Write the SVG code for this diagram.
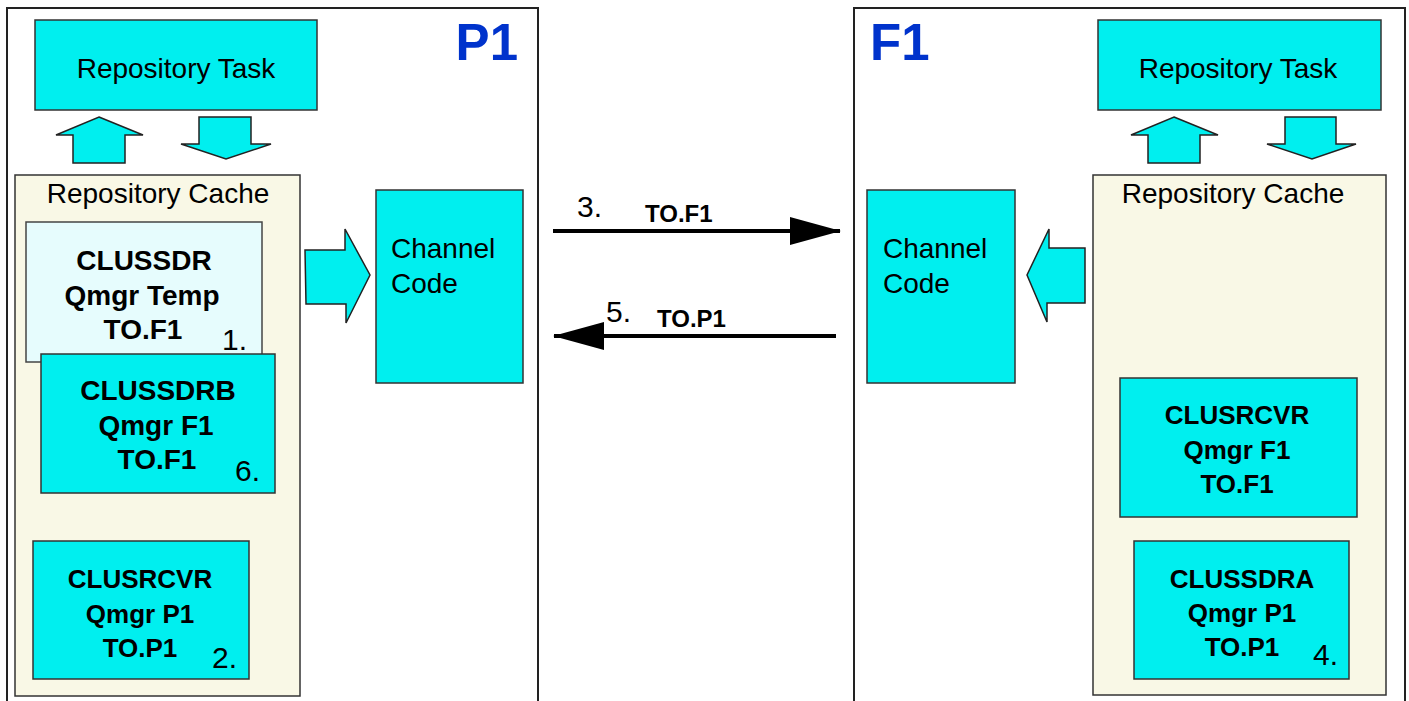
<svg xmlns="http://www.w3.org/2000/svg" width="1409" height="701" viewBox="0 0 1409 701">
<style>
.panel{fill:#ffffff;stroke:#222;stroke-width:2}
.box{fill:#00efef;stroke:#333;stroke-width:1.5}
.cache{fill:#f9f8e6;stroke:#333;stroke-width:1.5}
.light{fill:#e6fcfd;stroke:#444;stroke-width:1.5}
.arw{fill:#00efef;stroke:#222;stroke-width:1.5;stroke-linejoin:miter}
.t{font-family:'Liberation Sans',Arial,sans-serif;fill:#000}
.lbl{font-size:28px}
.b{font-weight:bold;text-anchor:middle}
.b28{font-size:28px}
.b26{font-size:26px}
.num{font-size:30px}
.title{font-family:'Liberation Sans',Arial,sans-serif;font-weight:bold;font-size:51px;fill:#0033cc}
.conn{stroke:#000;stroke-width:4;fill:none}
</style>
<defs>
<marker id="ah" markerUnits="userSpaceOnUse" markerWidth="52" markerHeight="30" refX="50" refY="14" orient="auto">
<path d="M0,0 L51,14 L0,28 Z" fill="#000"/>
</marker>
</defs>
<rect width="1409" height="701" fill="#ffffff"/>

<g id="panel-P1">
<rect class="panel" x="7" y="8" width="531" height="700"/>
<text class="title" x="518" y="60" text-anchor="end">P1</text>
</g>
<g id="panel-F1">
<rect class="panel" x="854" y="8" width="551" height="700"/>
<text class="title" x="870" y="60">F1</text>
</g>

<g id="p1-repo-task">
<rect class="box" x="35" y="20" width="282" height="90"/>
<text class="t lbl" x="176" y="78" text-anchor="middle">Repository Task</text>
</g>
<g id="p1-arrow-up"><polygon class="arw" points="99,117 143,135 125,135 125,163 73,163 73,135 56,135"/></g>
<g id="p1-arrow-down"><polygon class="arw" points="199,117 251,117 251,144 271,144 226,159 181,144 199,144"/></g>

<g id="p1-repo-cache">
<rect class="cache" x="15" y="175" width="285" height="521"/>
<text class="t lbl" x="158" y="203" text-anchor="middle">Repository Cache</text>
</g>

<g id="p1-clussdr">
<rect class="light" x="26" y="222" width="236" height="140"/>
<text class="t b b28" x="144" y="270">CLUSSDR</text>
<text class="t b b28" x="142" y="305">Qmgr Temp</text>
<text class="t b b28" x="143" y="339">TO.F1</text>
<text class="t num" x="222" y="350">1.</text>
</g>

<g id="p1-clussdrb">
<rect class="box" x="41" y="354" width="234" height="139"/>
<text class="t b b28" x="158" y="400">CLUSSDRB</text>
<text class="t b b28" x="156" y="435">Qmgr F1</text>
<text class="t b b28" x="157" y="469">TO.F1</text>
<text class="t num" x="235" y="481">6.</text>
</g>

<g id="p1-clusrcvr">
<rect class="box" x="33" y="541" width="216" height="138"/>
<text class="t b b26" x="140" y="588">CLUSRCVR</text>
<text class="t b b26" x="140" y="623">Qmgr P1</text>
<text class="t b b26" x="140" y="657">TO.P1</text>
<text class="t num" x="212" y="668">2.</text>
</g>

<g id="p1-arrow-right"><polygon class="arw" points="305,250 345,250 345,229 370,275 346,323 346,304 306,304"/></g>

<g id="p1-channel-code">
<rect class="box" x="376" y="190" width="147" height="193"/>
<text class="t lbl" x="391" y="258">Channel</text>
<text class="t lbl" x="391" y="293">Code</text>
</g>

<g id="f1-repo-task">
<rect class="box" x="1098" y="20" width="283" height="90"/>
<text class="t lbl" x="1238" y="78" text-anchor="middle">Repository Task</text>
</g>
<g id="f1-arrow-up"><polygon class="arw" points="1174,117 1218,135 1200,135 1200,163 1148,163 1148,135 1131,135"/></g>
<g id="f1-arrow-down"><polygon class="arw" points="1285,117 1336,117 1336,144 1356,144 1312,159 1267,144 1285,144"/></g>

<g id="f1-repo-cache">
<rect class="cache" x="1093" y="175" width="293" height="520"/>
<text class="t lbl" x="1233" y="203" text-anchor="middle">Repository Cache</text>
</g>

<g id="f1-channel-code">
<rect class="box" x="867" y="190" width="148" height="193"/>
<text class="t lbl" x="883" y="258">Channel</text>
<text class="t lbl" x="883" y="293">Code</text>
</g>

<g id="f1-arrow-left"><polygon class="arw" points="1085,248 1049,248 1049,229 1027,275 1047,322 1047,303 1085,303"/></g>

<g id="f1-clusrcvr">
<rect class="box" x="1120" y="378" width="237" height="139"/>
<text class="t b b26" x="1237" y="424">CLUSRCVR</text>
<text class="t b b26" x="1237" y="459">Qmgr F1</text>
<text class="t b b26" x="1237" y="493">TO.F1</text>
</g>

<g id="f1-clussdra">
<rect class="box" x="1134" y="541" width="215" height="138"/>
<text class="t b b26" x="1242" y="588">CLUSSDRA</text>
<text class="t b b26" x="1242" y="622">Qmgr P1</text>
<text class="t b b26" x="1242" y="656">TO.P1</text>
<text class="t num" x="1313" y="665">4.</text>
</g>

<g id="connectors">
<line class="conn" x1="553" y1="231" x2="840" y2="231" marker-end="url(#ah)"/>
<line class="conn" x1="836" y1="336" x2="554" y2="336" marker-end="url(#ah)"/>
<text class="t num" x="577" y="217">3.</text>
<text class="t b" style="font-size:24px;text-anchor:start" x="645" y="222">TO.F1</text>
<text class="t num" x="606" y="322">5.</text>
<text class="t b" style="font-size:24px;text-anchor:start" x="657" y="327">TO.P1</text>
</g>
</svg>
